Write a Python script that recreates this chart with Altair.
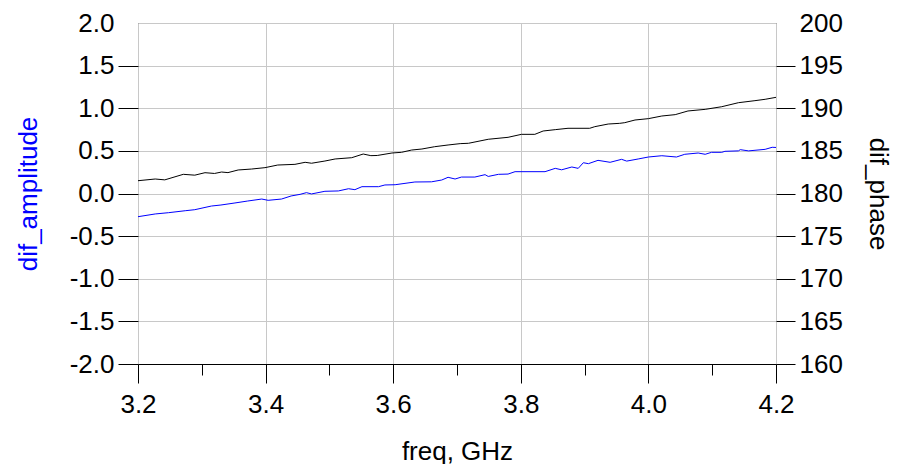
import altair as alt
import pandas as pd

# dif_phase (right axis, deg)
phase_freq = [3.200, 3.227, 3.242, 3.271, 3.289, 3.305, 3.320, 3.331, 3.341, 3.357,
              3.378, 3.399, 3.419, 3.446, 3.462, 3.472, 3.493, 3.509, 3.535, 3.553,
              3.565, 3.575, 3.598, 3.613, 3.629, 3.645, 3.665, 3.686, 3.705, 3.718,
              3.749, 3.780, 3.801, 3.822, 3.835, 3.854, 3.874, 3.908, 3.916, 3.937,
              3.955, 3.963, 3.979, 4.000, 4.021, 4.042, 4.062, 4.089, 4.115, 4.141,
              4.167, 4.183, 4.200]
phase_vals = [181.50, 181.70, 181.60, 182.25, 182.15, 182.44, 182.35, 182.52, 182.45, 182.76,
              182.87, 183.03, 183.34, 183.42, 183.66, 183.55, 183.81, 184.05, 184.20, 184.63,
              184.44, 184.46, 184.75, 184.83, 185.10, 185.22, 185.49, 185.69, 185.85, 185.89,
              186.36, 186.59, 186.94, 186.94, 187.33, 187.49, 187.65, 187.65, 187.84, 188.15,
              188.23, 188.31, 188.62, 188.78, 189.09, 189.25, 189.68, 189.87, 190.18, 190.65,
              190.89, 191.05, 191.28]

# dif_amplitude (left axis)
amp_freq = [3.200, 3.227, 3.248, 3.274, 3.289, 3.315, 3.330, 3.352, 3.372, 3.394,
            3.404, 3.425, 3.440, 3.454, 3.464, 3.472, 3.493, 3.514, 3.530, 3.540,
            3.551, 3.577, 3.587, 3.603, 3.634, 3.660, 3.676, 3.686, 3.697, 3.707,
            3.728, 3.744, 3.749, 3.765, 3.780, 3.791, 3.838, 3.854, 3.864, 3.880,
            3.890, 3.898, 3.906, 3.921, 3.940, 3.958, 3.966, 3.984, 4.000, 4.021,
            4.044, 4.057, 4.078, 4.089, 4.099, 4.115, 4.120, 4.141, 4.144, 4.157,
            4.183, 4.194, 4.200]
amp_vals = [-0.272, -0.240, -0.225, -0.202, -0.190, -0.147, -0.135, -0.111, -0.088, -0.065,
            -0.080, -0.065, -0.029, -0.010, 0.010, -0.005, 0.026, 0.030, 0.056, 0.045,
            0.080, 0.080, 0.100, 0.103, 0.135, 0.137, 0.158, 0.190, 0.170, 0.193,
            0.193, 0.221, 0.200, 0.225, 0.228, 0.256, 0.256, 0.295, 0.278, 0.311,
            0.295, 0.361, 0.350, 0.389, 0.366, 0.401, 0.380, 0.405, 0.428, 0.443,
            0.428, 0.460, 0.475, 0.460, 0.483, 0.483, 0.495, 0.500, 0.514, 0.500,
            0.518, 0.542, 0.540]

x_ticks = [3.2, 3.3, 3.4, 3.5, 3.6, 3.7, 3.8, 3.9, 4.0, 4.1, 4.2]
amp_ticks = [-2.0, -1.5, -1.0, -0.5, 0.0, 0.5, 1.0, 1.5, 2.0]
phase_ticks = [160, 165, 170, 175, 180, 185, 190, 195, 200]

FONT = "Liberation Sans"
FS = 26

df_amp = pd.DataFrame({"freq": amp_freq, "amp": amp_vals})
df_phase = pd.DataFrame({"freq": phase_freq, "phase": phase_vals})

major = "round(datum.value * 10) % 2 == 0"

x_enc = alt.X(
    "freq:Q",
    scale=alt.Scale(domain=[3.2, 4.2], nice=False, zero=False),
    axis=alt.Axis(
        values=x_ticks,
        labelExpr=f"{major} ? format(datum.value, '.1f') : ''",
        tickSize={"condition": {"test": major, "value": 19}, "value": 11},
        gridOpacity={"condition": {"test": major, "value": 1}, "value": 0},
        grid=True,
        gridColor="#c8c8c8",
        tickColor="#000000",
        domainColor="#000000",
        labelPadding=8,
        title="freq, GHz",
        titlePadding=21,
        titleColor="#000000",
    ),
)

amp = alt.Chart(df_amp).mark_line(color="#0000ff", strokeWidth=1).encode(
    x=x_enc,
    y=alt.Y(
        "amp:Q",
        scale=alt.Scale(domain=[-2, 2], nice=False, zero=False),
        axis=alt.Axis(
            orient="left",
            values=amp_ticks,
            labelExpr="datum.value < 0 ? '-' + format(-datum.value, '.1f') : format(datum.value, '.1f')",
            tickSize=20,
            tickColor="#000000",
            tickOpacity={"condition": {"test": "datum.value > 1.99", "value": 0}, "value": 1},
            labelPadding=4,
            domain=False,
            grid=True,
            gridColor="#c8c8c8",
            title="dif_amplitude",
            titleColor="#0000ff",
            titlePadding=28,
        ),
    ),
)

phase = alt.Chart(df_phase).mark_line(color="#000000", strokeWidth=1).encode(
    x=alt.X("freq:Q"),
    y=alt.Y(
        "phase:Q",
        scale=alt.Scale(domain=[160, 200], nice=False, zero=False),
        axis=alt.Axis(
            orient="right",
            values=phase_ticks,
            format="d",
            tickSize=19,
            tickColor="#000000",
            tickOpacity={"condition": {"test": "datum.value > 199.9", "value": 0}, "value": 1},
            labelPadding=4,
            domain=False,
            grid=False,
            title="dif_phase",
            titleColor="#000000",
            titlePadding=22,
        ),
    ),
)

chart = (
    alt.layer(amp, phase)
    .resolve_scale(y="independent")
    .properties(
        width=638,
        height=341,
        autosize=alt.AutoSizeParams(type="none"),
        padding={"left": 130, "top": 15, "right": 117, "bottom": 100},
    )
    .configure_view(stroke="#333333", strokeWidth=1)
    .configure_axis(
        labelFont=FONT,
        labelFontSize=FS,
        labelColor="#000000",
        titleFont=FONT,
        titleFontSize=FS,
        titleFontWeight="normal",
        gridWidth=1,
        tickWidth=1,
        labelFlush=False,
        labelOverlap=False,
    )
)

chart.save("out.html", embed_options={"renderer": "svg", "actions": False})
